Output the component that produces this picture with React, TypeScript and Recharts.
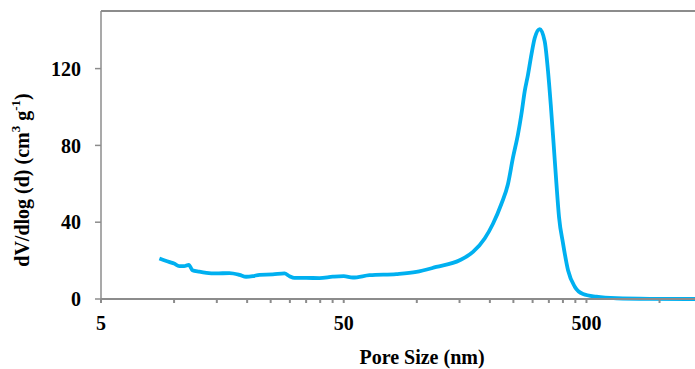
import { Line, LineChart, ReferenceLine, XAxis, YAxis } from "recharts";

const poreSize = [
  8.7, 9.1, 9.6, 10.0, 10.5, 11.0, 11.5, 11.9, 12.7, 13.6, 14.9, 16.9, 18.6, 19.8, 21.1, 22.5, 25.5,
  28.5, 29.9, 31.3, 35.0, 39.7, 45.1, 50.0, 54.5, 63.9, 82.3, 99.6, 120.3, 150.2, 170.4, 190.4, 206.0,
  223.2, 237.5, 249.1, 261.2, 269.7, 278.4, 287.2, 296.6, 306.1, 320.9, 336.5, 347.2, 356.3, 366.5,
  376.1, 385.5, 400.3, 419.8, 447.5, 484.0, 549.7, 664.9, 911.9, 1400,
];
const dvdlogd = [
  21.1, 20.2, 19.2, 18.5, 17.1, 17.1, 17.8, 15.0, 14.2, 13.6, 13.3, 13.5, 12.6, 11.6, 11.9, 12.6, 12.8,
  13.3, 11.9, 11.0, 11.0, 10.9, 11.6, 11.9, 11.2, 12.4, 13.0, 14.1, 16.7, 20.2, 24.5, 31.5, 39.2,
  49.6, 59.9, 73.7, 85.9, 96.2, 108.3, 116.9, 127.3, 135.9, 140.6, 134.2, 118.7, 101.4, 80.0,
  59.9, 42.6, 29.0, 15.0, 6.4, 2.6, 1.2, 0.4, 0.1, 0,
];

const xTicks = [5, 10, 15, 20, 25, 30, 35, 40, 45, 50, 100, 150, 200, 250, 300, 350, 400, 450, 500, 1000];
const xLabels = [5, 50, 500];
const yTicks = [0, 40, 80, 120];

const data = poreSize.map((d, i) => ({ d, v: dvdlogd[i] }));

const font = '"Liberation Serif", "Times New Roman", serif';
const axisGray = "#8c8c8c";

export default function App() {
  return (
    <div style={{ position: "fixed", top: 0, left: 0, background: "#fff" }}>
      <LineChart width={695} height={369} data={data} margin={{ top: 11, right: 0, bottom: 20, left: 0 }}>
        <ReferenceLine y={150} stroke={axisGray} strokeWidth={2} />
        <XAxis
          dataKey="d"
          type="number"
          scale="log"
          domain={[5, 1400]}
          allowDataOverflow
          ticks={xTicks}
          interval={0}
          height={50}
          tickFormatter={(v: number) => (xLabels.includes(v) ? String(v) : "")}
          stroke={axisGray}
          strokeWidth={2}
          tickSize={4}
          tickMargin={13}
          tick={{ fill: "#000", fontFamily: font, fontWeight: "bold", fontSize: 20 }}
          label={{
            content: () => (
              <text x={422} y={364} textAnchor="middle" fontFamily={font} fontWeight="bold" fontSize={20} fill="#000">
                Pore Size (nm)
              </text>
            ),
          }}
        />
        <YAxis
          type="number"
          domain={[0, 150]}
          ticks={yTicks}
          interval={0}
          width={101}
          stroke={axisGray}
          strokeWidth={1.5}
          tickSize={6}
          tickMargin={14}
          tick={{ fill: "#000", fontFamily: font, fontWeight: "bold", fontSize: 20 }}
          label={{
            content: () => (
              <text
                x={22}
                y={180}
                transform="rotate(-90 22 180)"
                textAnchor="middle"
                dominantBaseline="central"
                fontFamily={font}
                fontWeight="bold"
                fontSize={20}
                fill="#000"
              >
                dV/dlog (d) (cm
                <tspan dy={-7} fontSize={13}>3</tspan>
                <tspan dy={7}> g</tspan>
                <tspan dy={-7} fontSize={13}>-1</tspan>
                <tspan dy={7}>)</tspan>
              </text>
            ),
          }}
        />
        <Line
          dataKey="v"
          type="monotone"
          stroke="#00B0F0"
          strokeWidth={3.8}
          dot={false}
          isAnimationActive={false}
        />
      </LineChart>
    </div>
  );
}
